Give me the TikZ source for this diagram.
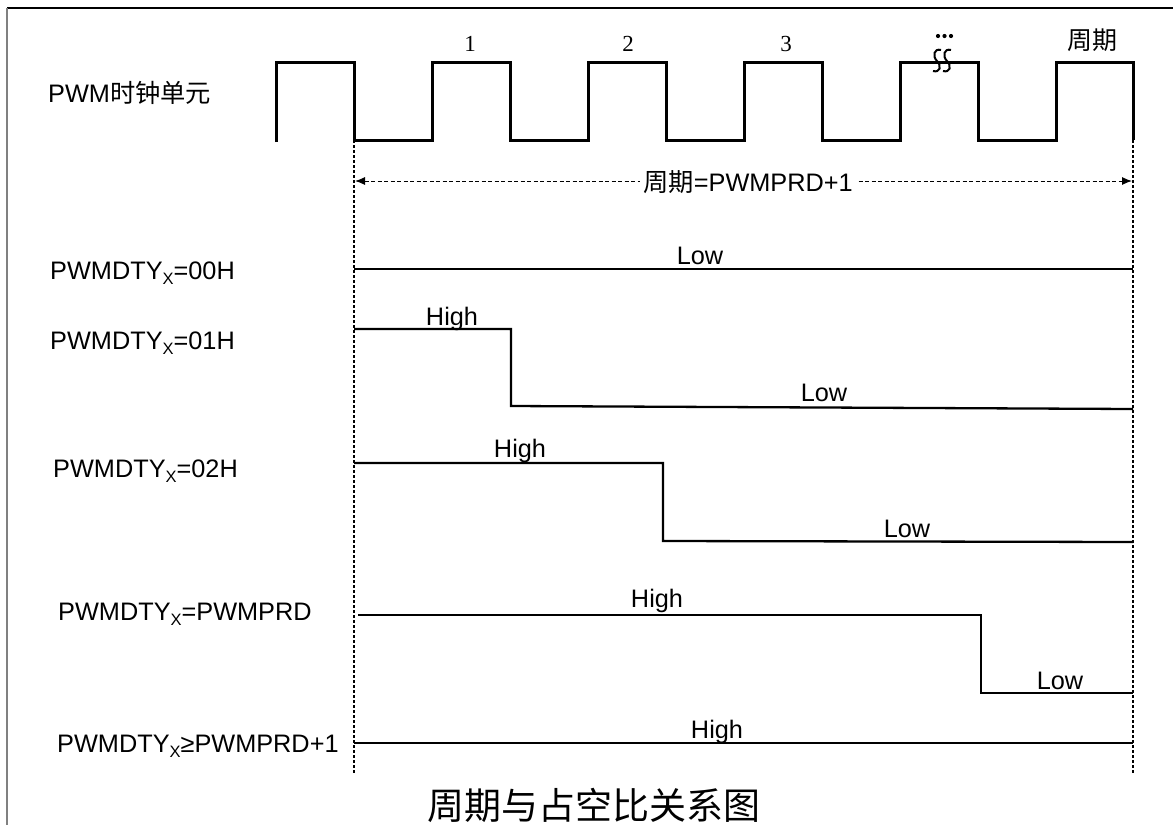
\documentclass[tikz,border=0pt]{standalone}
\usepackage{fontspec}
\setmainfont{Liberation Sans}
\newfontfamily\cjk{Noto Sans CJK SC}
\newfontfamily\serifnum{Liberation Serif}
\usetikzlibrary{arrows.meta}
\newcommand{\subX}{\raisebox{-5pt}{\fontsize{16.5}{16.5}\selectfont X}}
\begin{document}
\begin{tikzpicture}[x=1pt,y=-1pt,
  clk/.style={line width=3pt,line join=miter},
  sig/.style={line width=2.3pt,line join=miter},
  guide/.style={line width=2.3pt,dash pattern=on 3pt off 2pt},
  dimline/.style={line width=1pt,dash pattern=on 4pt off 2.5pt},
  lab/.style={font=\fontsize{25.3}{30}\selectfont,inner sep=0pt,anchor=base west},
  lvl/.style={font=\fontsize{25.3}{30}\selectfont,inner sep=0pt,anchor=base},
  numlab/.style={font=\serifnum\fontsize{23}{25}\selectfont,inner sep=0pt}]
\useasboundingbox (0,0) rectangle (1173,825);
\fill[white] (0,0) rectangle (1173,825);
% frame
\draw[line width=1.5pt] (7,8) -- (1173,8);
\draw[gray,line width=2pt] (7,8) -- (7,825);
% clock
\draw[clk] (276,142) -- (276,62) -- (354,62) -- (354,140) -- (432,140) -- (432,62) -- (510,62) -- (510,140)
  -- (588,140) -- (588,62) -- (666,62) -- (666,140) -- (744,140) -- (744,62) -- (822,62) -- (822,140)
  -- (900,140) -- (900,62) -- (978,62) -- (978,140) -- (1056,140) -- (1056,62) -- (1133,62) -- (1133,140);
\node[numlab] (n1) at (470,44) {1};
\node[numlab] (n2) at (628,44) {2};
\node[numlab] (n3) at (786,44) {3};
\node[font=\cjk\fontsize{25}{28}\selectfont,inner sep=0pt] (zq) at (1092,40) {周期};
\fill (938,36) circle (2.1pt) (944.5,36) circle (2.1pt) (951,36) circle (2.1pt);
\draw[line width=2pt] (941,50) .. controls (934,48) and (932,56) .. (937,61) .. controls (942,66) and (940,73) .. (933,71);
\draw[line width=2pt] (951,50) .. controls (944,48) and (942,56) .. (947,61) .. controls (952,66) and (950,73) .. (943,71);
\node[lab] (clklab) at (48,102) {PWM{\cjk 时钟单元}};
% guides
\coordinate (gl0) at (354,140); \coordinate (gl1) at (354,774);
\coordinate (gr0) at (1133,140); \coordinate (gr1) at (1133,774);
\draw[guide] (gl0) -- (gl1);
\draw[guide] (gr0) -- (gr1);
% dimension
\coordinate (dl) at (355,181); \coordinate (dr) at (1132,181);
\draw[dimline,{Latex[length=10pt,width=8pt]}-{Latex[length=10pt,width=8pt]}] (dl) -- (dr);
\node[fill=white,inner sep=3pt,font=\fontsize{25.3}{30}\selectfont] (dimtxt) at (748,182) {{\cjk 周期}=PWMPRD+1};
% 00H
\node[lab] (l0) at (50,279) {PWMDTY\subX=00H};
\draw[sig] (354,269) -- (1133,269);
\node[lvl] (low0) at (700,264) {Low};
% 01H
\node[lab] (l1) at (50,349) {PWMDTY\subX=01H};
\draw[sig] (354,329) -- (511,329) -- (511,406) -- (1133,409);
\node[lvl] (hi1) at (452,325) {High};
\node[lvl] (low1) at (824,401) {Low};
% 02H
\node[lab] (l2) at (53,477) {PWMDTY\subX=02H};
\draw[sig] (354,463) -- (663,463) -- (663,541) -- (1133,542);
\node[lvl] (hi2) at (520,457) {High};
\node[lvl] (low2) at (907,537) {Low};
% PWMPRD
\node[lab] (l3) at (58,620) {PWMDTY\subX=PWMPRD};
\draw[sig] (358,615) -- (981,615) -- (981,693) -- (1133,693);
\node[lvl] (hi3) at (657,607) {High};
\node[lvl] (low3) at (1060,689) {Low};
% >= PWMPRD+1
\node[lab] (l4) at (57,752) {PWMDTY\subX≥PWMPRD+1};
\draw[sig] (354,743) -- (1133,743);
\node[lvl] (hi4) at (717,738) {High};
% title
\node[font=\cjk\fontsize{37}{40}\selectfont,inner sep=0pt] (title) at (594,805) {周期与占空比关系图};
\end{tikzpicture}
\end{document}
